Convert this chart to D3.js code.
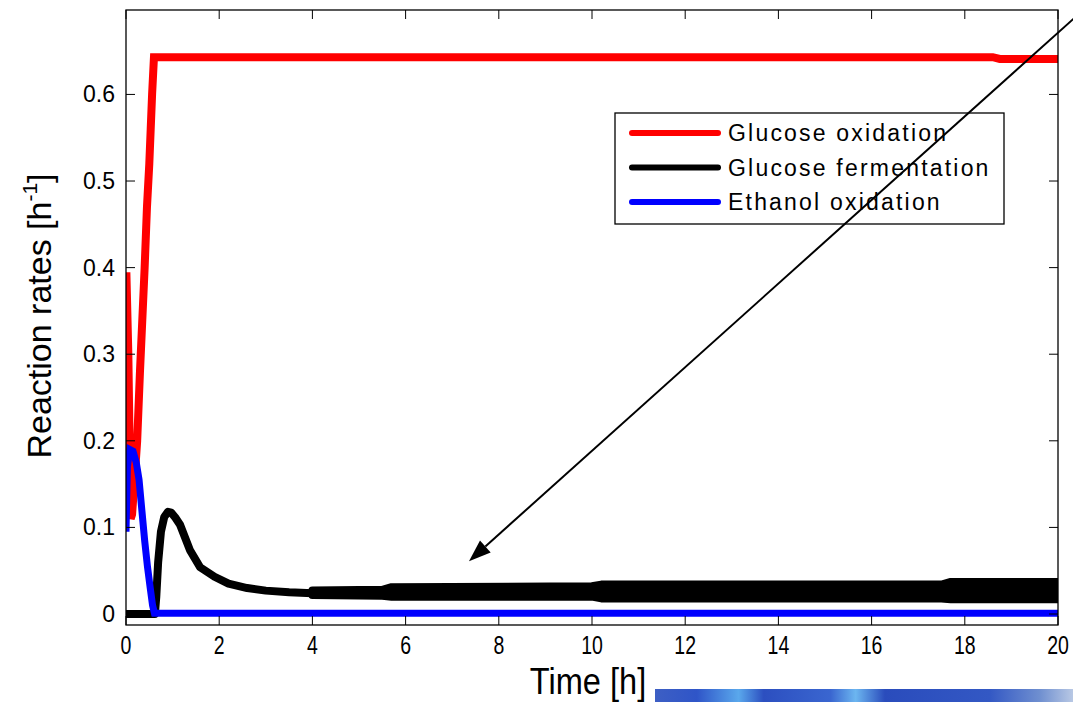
<!DOCTYPE html>
<meta charset="utf-8">
<html>
<head>
  <title>Reaction rates</title>
  <style type="text/css">
    body{margin:0; background:#fff;}
    text{font-family:"Liberation Sans", Arial, sans-serif; fill:#000;}
  </style>
</head>
<body>
  <script src="https://cdn.jsdelivr.net/npm/d3@7"></script>
  <script>
    // glucose oxidation (red)
    var oxT = [0, 0.01, 0.05, 0.1, 0.13, 0.19, 0.24, 0.3, 0.35, 0.4, 0.45, 0.5, 0.53, 0.56, 0.6, 18.6, 18.75, 20];
    var oxV = [0.39, 0.39, 0.30, 0.11, 0.115, 0.16, 0.2, 0.28, 0.34, 0.4, 0.47, 0.52, 0.56, 0.6, 0.643, 0.643, 0.641, 0.641];

    // glucose fermentation (black), smooth part
    var fermT = [0, 0.62, 0.65, 0.69, 0.75, 0.82, 0.9, 0.97, 1.05, 1.16, 1.37, 1.59, 1.9, 2.2, 2.6, 3.0, 3.5, 4];
    var fermV = [0, 0, 0.02, 0.06, 0.095, 0.112, 0.118, 0.117, 0.112, 0.103, 0.074, 0.054, 0.043, 0.035, 0.03, 0.027, 0.025, 0.024];

    // glucose fermentation, fast oscillating band (lower / upper envelope)
    var bandT  = [4, 5.5, 5.7, 10, 10.2, 17.5, 17.7, 20];
    var bandLo = [0.022, 0.021, 0.02, 0.02, 0.018, 0.018, 0.017, 0.017];
    var bandHi = [0.027, 0.028, 0.031, 0.032, 0.034, 0.034, 0.037, 0.037];

    // ethanol oxidation (blue)
    var ethT = [0, 0.03, 0.08, 0.15, 0.22, 0.28, 0.34, 0.4, 0.46, 0.52, 0.57, 0.61, 20];
    var ethV = [0.095, 0.17, 0.19, 0.188, 0.175, 0.155, 0.12, 0.085, 0.055, 0.03, 0.01, 0.001, 0.001];

    var xTicks = [0, 2, 4, 6, 8, 10, 12, 14, 16, 18, 20];
    var yTicks = [0, 0.1, 0.2, 0.3, 0.4, 0.5, 0.6];
    var legendNames = ['Glucose oxidation', 'Glucose fermentation', 'Ethanol oxidation'];
    var legendColors = ['#ff0000', '#000000', '#0000ff'];

    // arrow annotation, in data units (tail, head)
    var arrowFrom = [20.47, 0.694],
        arrowTo = [7.36, 0.061];

    var width = 1073,
        height = 702;
    var pLeft = 126, pRight = 1058, pTop = 10, pBottom = 625;

    var x = d3.scaleLinear().domain([0, 20]).range([pLeft, pRight]);
    var y = d3.scaleLinear().domain([-0.0127, 0.6975]).range([pBottom, pTop]);

    var svg = d3.select('body')
        .append('svg')
        .attr('width', width)
        .attr('height', height);

    var defs = svg.append('defs');
    defs.append('clipPath').attr('id', 'plotclip')
      .append('rect')
      .attr('x', pLeft).attr('y', pTop)
      .attr('width', pRight - pLeft).attr('height', pBottom - pTop);

    // blue photo strip peeking in at bottom right
    var grad = defs.append('linearGradient').attr('id', 'strip');
    [[0, '#3d5fc4'], [0.1, '#2f55c8'], [0.2, '#5aa8ec'], [0.26, '#2c4fc0'],
     [0.42, '#3a66d0'], [0.48, '#6cb6f0'], [0.55, '#2a4cbc'], [0.8, '#3358c4'],
     [0.92, '#6f8fd0'], [1, '#b8c8e4']].forEach(function(s){
      grad.append('stop').attr('offset', s[0]).attr('stop-color', s[1]);
    });
    svg.append('rect')
      .attr('x', 655).attr('y', 689)
      .attr('width', width - 655).attr('height', height - 689)
      .style('fill', 'url(#strip)');

    var plot = svg.append('g').attr('clip-path', 'url(#plotclip)');

    var line = d3.line()
      .x(function(d){return x(d[0])})
      .y(function(d){return y(d[1])});

    plot.append('path')
      .datum(d3.zip(oxT, oxV))
      .attr('d', line)
      .style('fill', 'none')
      .style('stroke', '#ff0000')
      .style('stroke-width', 8);

    plot.append('path')
      .datum(d3.zip(fermT, fermV))
      .attr('d', line)
      .style('fill', 'none')
      .style('stroke', '#000')
      .style('stroke-width', 8)
      .style('stroke-linejoin', 'round');

    var band = d3.area()
      .x(function(d){return x(d[0])})
      .y0(function(d){return y(d[1])})
      .y1(function(d){return y(d[2])});

    plot.append('path')
      .datum(d3.zip(bandT, bandLo, bandHi))
      .attr('d', band)
      .style('fill', '#000')
      .style('stroke', '#000')
      .style('stroke-width', 8)
      .style('stroke-linejoin', 'round');

    plot.append('path')
      .datum(d3.zip(ethT, ethV))
      .attr('d', line)
      .style('fill', 'none')
      .style('stroke', '#0000ff')
      .style('stroke-width', 7);

    // frame and inward ticks on all four sides
    svg.append('rect')
      .attr('x', pLeft).attr('y', pTop)
      .attr('width', pRight - pLeft).attr('height', pBottom - pTop)
      .style('fill', 'none')
      .style('stroke', '#000')
      .style('stroke-width', 1.3);

    var tickLen = 9;
    var axes = svg.append('g').style('stroke', '#000').style('stroke-width', 1);
    axes.selectAll('.xb').data(xTicks).enter().append('line')
      .attr('x1', x).attr('x2', x)
      .attr('y1', pBottom).attr('y2', pBottom - tickLen);
    axes.selectAll('.xt').data(xTicks).enter().append('line')
      .attr('x1', x).attr('x2', x)
      .attr('y1', pTop).attr('y2', pTop + tickLen);
    axes.selectAll('.yl').data(yTicks).enter().append('line')
      .attr('y1', y).attr('y2', y)
      .attr('x1', pLeft).attr('x2', pLeft + tickLen);
    axes.selectAll('.yr').data(yTicks).enter().append('line')
      .attr('y1', y).attr('y2', y)
      .attr('x1', pRight).attr('x2', pRight - tickLen);

    svg.selectAll('.xlab').data(xTicks).enter().append('text')
      .attr('transform', function(d){return 'translate(' + x(d) + ',654) scale(0.78,1)'})
      .attr('text-anchor', 'middle')
      .style('font-size', '25px')
      .text(function(d){return d});

    svg.selectAll('.ylab').data(yTicks).enter().append('text')
      .attr('x', 115)
      .attr('y', function(d){return y(d) + 8})
      .attr('text-anchor', 'end')
      .style('font-size', '23px')
      .text(function(d){return d === 0 ? '0' : d3.format('.1f')(d)});

    svg.append('text')
      .attr('transform', 'translate(588,694) scale(0.88,1)')
      .attr('text-anchor', 'middle')
      .style('font-size', '37px')
      .text('Time [h]');

    var ylab = svg.append('text')
      .attr('transform', 'translate(51,316) rotate(-90)')
      .attr('text-anchor', 'middle')
      .style('font-size', '34px');
    ylab.append('tspan').text('Reaction rates [h');
    ylab.append('tspan').attr('dy', -14).style('font-size', '21px').text('-1');
    ylab.append('tspan').attr('dy', 14).text(']');

    // legend
    var leg = svg.append('g');
    leg.append('rect')
      .attr('x', 615).attr('y', 113)
      .attr('width', 389).attr('height', 111)
      .style('fill', '#fff')
      .style('stroke', '#000')
      .style('stroke-width', 1.3);
    legendNames.forEach(function(name, i){
      var ly = 133 + i * 34.5;
      leg.append('line')
        .attr('x1', 632).attr('x2', 718)
        .attr('y1', ly).attr('y2', ly)
        .style('stroke', legendColors[i])
        .style('stroke-width', 6)
        .style('stroke-linecap', 'round');
      leg.append('text')
        .attr('x', 728).attr('y', ly + 8)
        .style('font-size', '23px')
        .style('letter-spacing', '2.2px')
        .text(name);
    });

    // arrow pointing at the oscillating fermentation rate
    var ax0 = x(arrowFrom[0]), ay0 = y(arrowFrom[1]),
        ax1 = x(arrowTo[0]), ay1 = y(arrowTo[1]);
    var ang = Math.atan2(ay1 - ay0, ax1 - ax0),
        headL = 22, headW = 8;
    var bx = ax1 - headL * Math.cos(ang), by = ay1 - headL * Math.sin(ang);
    svg.append('line')
      .attr('x1', ax0).attr('y1', ay0)
      .attr('x2', bx).attr('y2', by)
      .style('stroke', '#000')
      .style('stroke-width', 2);
    svg.append('path')
      .attr('d', 'M' + ax1 + ',' + ay1 +
        'L' + (bx + headW * Math.sin(ang)) + ',' + (by - headW * Math.cos(ang)) +
        'L' + (bx - headW * Math.sin(ang)) + ',' + (by + headW * Math.cos(ang)) + 'Z')
      .style('fill', '#000');
  </script>
</body>
</html>
